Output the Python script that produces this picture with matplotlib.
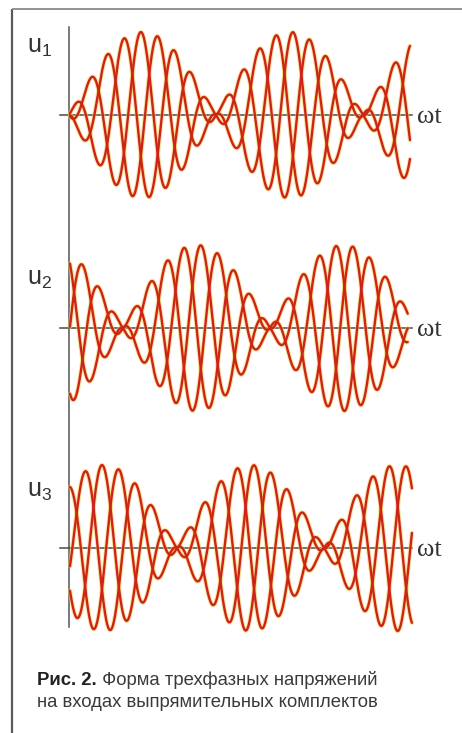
import numpy as np
import matplotlib
matplotlib.use('Agg')
import matplotlib.pyplot as plt

# ---------------- data ----------------
panel_labels = [r'$\mathregular{u_1}$', r'$\mathregular{u_2}$', r'$\mathregular{u_3}$']
axis_label = 'ωt'
phase_shifts_deg = [0, 120, 240]            # three phases drawn in every panel
first_top_peak_deg = [270, 696, 114]        # position of a positive peak (carrier degrees)
envelope_node_deg = [1044, 383, 767]        # where the beat envelope pinches to zero
envelope_node_spacing_deg = 1044            # distance between neighbouring pinches
peak_amplitude = [1.0, 1.0, 1.0]
wt_start_deg = [7, 7, 7]
wt_end_deg = [2421, 2405, 2435]
caption_bold = 'Рис. 2.'
caption_line1 = ' Форма трехфазных напряжений'
caption_line2 = 'на входах выпрямительных комплектов'

# ---------------- layout (pixels) ----------------
W, H = 462, 733
PX_PER_DEG = 50.7 / 360.0
YAXIS_X = 69
AXIS_Y = [115, 328, 548]
AMP_PX = 83
LABEL_BASE = [53, 285, 497]

fig = plt.figure(figsize=(W / 100, H / 100), dpi=100)
fig.patch.set_facecolor('white')

bg = fig.add_axes([0, 0, 1, 1])
bg.set_xlim(0, W)
bg.set_ylim(H, 0)
bg.axis('off')

# frame and common vertical axis
bg.plot([12, 12], [9, H], color='#5a5a5a', lw=1.6, solid_capstyle='butt')
bg.plot([12, W], [9, 9], color='#8a8a8a', lw=1.3, solid_capstyle='butt')
bg.plot([YAXIS_X, YAXIS_X], [27, 627], color='#555555', lw=1.1)

red = '#cc2419'
halo = '#f4cf55'

for k in range(3):
    ay = AXIS_Y[k]
    left_px, right_px = 50, 420
    ax = fig.add_axes([left_px / W, 1 - (ay + 100) / H, (right_px - left_px) / W, 200 / H])
    ax.set_xlim((left_px - YAXIS_X) / PX_PER_DEG, (right_px - YAXIS_X) / PX_PER_DEG)
    ax.set_ylim(-100 / AMP_PX, 100 / AMP_PX)
    ax.axis('off')
    ax.patch.set_alpha(0)
    ax.axhline(0, xmin=(60 - left_px) / (right_px - left_px),
               xmax=(412 - left_px) / (right_px - left_px), color='#4a4a4a', lw=1.1, zorder=1)
    theta = np.linspace(wt_start_deg[k], wt_end_deg[k], 3000)
    env = peak_amplitude[k] * np.abs(np.sin(np.pi * (theta - envelope_node_deg[k]) / envelope_node_spacing_deg))
    curves = [env * np.sin(np.deg2rad(theta - (first_top_peak_deg[k] - 90) - sh))
              for sh in phase_shifts_deg]
    for u in curves:
        ax.plot(theta, u, color=halo, lw=3.2, alpha=0.55, zorder=2, solid_capstyle='round')
    for u in curves:
        ax.plot(theta, u, color=red, lw=1.7, zorder=3, solid_capstyle='round')

    bg.text(27, LABEL_BASE[k], panel_labels[k], fontsize=18, color='#333333',
            family='Liberation Sans', ha='left', va='baseline')
    bg.text(417, AXIS_Y[k] + 8, axis_label, fontsize=19, color='#333333',
            family=['Liberation Serif', 'DejaVu Serif'], ha='left', va='baseline')

# caption
cap_family = 'Liberation Sans'
cap_size = 13.3
t_b = bg.text(37, 685, caption_bold, fontsize=cap_size, fontweight='bold', color='#222222',
              family=cap_family, ha='left', va='baseline')
fig.canvas.draw()
r = fig.canvas.get_renderer()
bb = t_b.get_window_extent(renderer=r)
bg.text(bb.x1, 685, caption_line1, fontsize=cap_size, color='#3a3a3a',
        family=cap_family, ha='left', va='baseline')
bg.text(37, 707, caption_line2, fontsize=cap_size, color='#3a3a3a',
        family=cap_family, ha='left', va='baseline')

fig.savefig('out.png', dpi=100, facecolor='white')
